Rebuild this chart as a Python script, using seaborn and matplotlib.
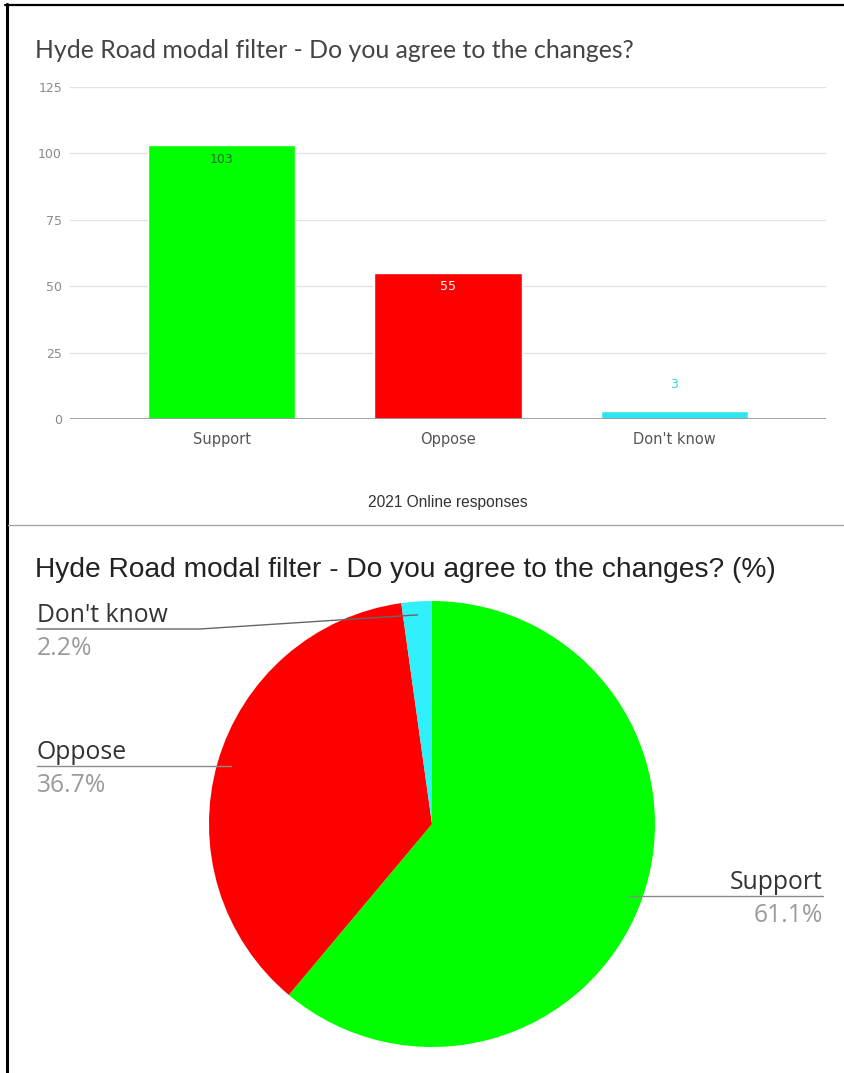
import numpy as np
import pandas as pd
import matplotlib
matplotlib.use("Agg")
import matplotlib.pyplot as plt
from matplotlib import font_manager
from matplotlib.lines import Line2D
import seaborn as sns

# Survey results
categories = ["Support", "Oppose", "Don't know"]
responses = [103, 55, 3]
y_ticks = [0, 25, 50, 75, 100, 125]
pie_labels = ["Support", "Oppose", "Don't know"]
pie_shares = [61.1, 36.7, 2.2]

bar_colors = ["#00ff00", "#ff0000", "#2ee6ef"]
pie_colors = ["#00ff00", "#ff0000", "#2ff0fb"]
value_colors = ["#2a6a2a", "#ffffff", "#3ccfe0"]

W, H = 844, 1073

sns.set_theme(style="white")
plt.rcParams["font.family"] = ["DejaVu Sans"]


def pick(*names):
    avail = {f.name for f in font_manager.fontManager.ttflist}
    for n in names:
        if n in avail:
            return n
    return "DejaVu Sans"


TITLE_FONT = pick("Lato", "Open Sans")
ARIAL = pick("Liberation Sans", "Arimo", "DejaVu Sans")
TICK_FONT = pick("DejaVu Sans")
LABEL_FONT = pick("Open Sans", "Noto Sans")

fig = plt.figure(figsize=(W / 100, H / 100), dpi=100)
fig.patch.set_facecolor("white")
renderer = fig.canvas.get_renderer()


def fx(x):
    return x / W


def fy(y):
    return 1 - y / H


def fit(text, width):
    for _ in range(2):
        w = text.get_window_extent(renderer).width
        text.set_fontsize(text.get_fontsize() * width / w)
    return text.get_fontsize()


# ---------------- bar chart ----------------
ax = fig.add_axes([fx(70), fy(419), (826 - 70) / W, (419 - 87) / H])
df = pd.DataFrame({"category": categories, "responses": responses})
sns.barplot(data=df, x="category", y="responses", hue="category",
            palette=bar_colors, saturation=1, width=0.65, legend=False, ax=ax)
ax.set_xlim(-0.67, 2.67)
ax.set_ylim(0, 125)
ax.set_yticks(y_ticks)
ax.set_yticklabels([str(t) for t in y_ticks])
ax.grid(axis="y", color="#e2e2e2", lw=1)
ax.grid(axis="x", visible=False)
ax.set_axisbelow(True)
for s in ax.spines.values():
    s.set_visible(False)
ax.axhline(0, color="#9a9a9a", lw=2, zorder=3)
ax.tick_params(axis="both", length=0)
ax.tick_params(axis="y", pad=5.8, labelsize=9, labelcolor="#8a8a8a")
ax.tick_params(axis="x", pad=9.5, labelsize=10.5, labelcolor="#555555")
for t in ax.get_xticklabels() + ax.get_yticklabels():
    t.set_family(TICK_FONT)
ax.set_xlabel("")
ax.set_ylabel("")

# value labels: inside the tall bars, above the short one
for cont, val, col in zip(ax.containers, responses, value_colors):
    inside = val > 20
    anns = ax.bar_label(cont, labels=[str(val)], padding=-10 if inside else 19,
                        color=col, fontsize=9, family=TICK_FONT)
    for a in anns:
        a.set_va("center")

# titles of the bar chart
t1 = fig.text(fx(35), fy(50), "Hyde Road modal filter - Do you agree to the changes?",
              ha="left", va="center", family=TITLE_FONT, color="#444444", fontsize=15)
fit(t1, 600)
t2 = fig.text(fx(448), fy(502), "2021 Online responses", ha="center", va="center",
              family=ARIAL, color="#333333", fontsize=11)
fit(t2, 160)

# frame and separator
fig.add_artist(Line2D([fx(6.5), fx(6.5)], [0, fy(4)], color="black", lw=2.2))
fig.add_artist(Line2D([fx(5), 1], [fy(5), fy(5)], color="black", lw=1.6))
fig.add_artist(Line2D([fx(8), 1], [fy(525), fy(525)], color="#a8a8a8", lw=1))

# ---------------- pie chart ----------------
t3 = fig.text(fx(35), fy(570), "Hyde Road modal filter - Do you agree to the changes? (%)",
              ha="left", va="center", family=ARIAL, color="#222222", fontsize=17)
fit(t3, 737)

cx, cy, r = 432, 824, 223
pax = fig.add_axes([fx(cx - r), fy(cy + r), 2 * r / W, 2 * r / H])
wedges, _ = pax.pie(pie_shares, colors=pie_colors, startangle=90, counterclock=False,
                    radius=1, wedgeprops=dict(linewidth=0))
pax.set_xlim(-1, 1)
pax.set_ylim(-1, 1)
pax.axis("off")


def X(px):
    return (px - cx) / r


def Y(py):
    return (cy - py) / r


anchor_r = 0.94
line_col = "#8a8a8a"
name_col = "#333333"
pct_col = "#9a9a9a"

probe = pax.text(X(37), Y(600), "Don't know", family=LABEL_FONT, fontsize=14)
label_fs = fit(probe, 131)
probe.remove()

for w, name, share in zip(wedges, pie_labels, pie_shares):
    m = np.deg2rad((w.theta1 + w.theta2) / 2)
    axp, ayp = anchor_r * np.cos(m), anchor_r * np.sin(m)
    pct = f"{share:.1f}%"
    if name == "Support":
        ly = ayp
        pax.plot([axp, X(823)], [ly, ly], color=line_col, lw=1, clip_on=False)
        tx, ha = X(823), "right"
    elif name == "Oppose":
        ly = ayp
        pax.plot([X(37), axp], [ly, ly], color=line_col, lw=1, clip_on=False)
        tx, ha = X(37), "left"
    else:
        ly = Y(629)
        pax.plot([X(37), X(200), axp], [ly, ly, ayp], color="#666666", lw=1, clip_on=False)
        tx, ha = X(37), "left"
    pax.text(tx, ly + 7 / r, name, ha=ha, va="baseline", family=LABEL_FONT,
             fontsize=label_fs, color=name_col, clip_on=False)
    pax.text(tx, ly - 26 / r, pct, ha=ha, va="baseline", family=LABEL_FONT,
             fontsize=label_fs, color=pct_col, clip_on=False)

fig.savefig("out.png", dpi=100, facecolor="white")
